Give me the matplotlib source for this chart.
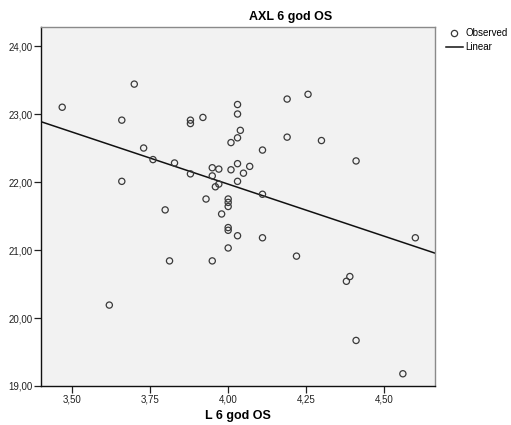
import numpy as np
import matplotlib
matplotlib.use("Agg")
import matplotlib.pyplot as plt
from matplotlib.lines import Line2D

plt.rcParams["font.family"] = ["Liberation Sans", "DejaVu Sans"]

title = "AXL 6 god OS"
x_label = "L 6 god OS"

# L 6 god OS values
l6 = [3.468, 3.699, 3.659, 3.729, 3.759, 3.828, 3.659, 3.879, 3.879, 3.919,
      4.030, 4.030, 4.039, 4.030, 4.009, 4.189, 4.256, 4.189, 4.110, 3.879,
      3.949, 3.970, 3.949, 4.009, 4.030, 4.069, 4.049, 4.030, 3.970, 3.959,
      4.110, 3.929, 4.000, 4.000, 4.000, 3.979, 4.000, 4.000, 4.030, 4.110,
      4.000, 3.812, 3.949, 4.219, 3.798, 3.619, 4.600, 4.390, 4.379, 4.410,
      4.560, 4.299, 4.410]
# AXL 6 god OS values
axl6 = [23.10, 23.44, 22.91, 22.50, 22.33, 22.28, 22.01, 22.91, 22.86, 22.95,
        23.14, 23.00, 22.76, 22.65, 22.58, 23.22, 23.29, 22.66, 22.47, 22.12,
        22.21, 22.19, 22.09, 22.18, 22.27, 22.23, 22.13, 22.01, 21.97, 21.93,
        21.82, 21.75, 21.75, 21.70, 21.64, 21.53, 21.33, 21.29, 21.21, 21.18,
        21.03, 20.84, 20.84, 20.91, 21.59, 20.19, 21.18, 20.61, 20.54, 19.67,
        19.18, 22.61, 22.31]

x_ticks = [3.50, 3.75, 4.00, 4.25, 4.50]
y_ticks = [19, 20, 21, 22, 23, 24]

W, H = 511, 425
fig = plt.figure(figsize=(W / 100, H / 100), dpi=100)
fig.patch.set_facecolor("white")
ax = fig.add_axes([41 / W, (H - 386) / H, (435 - 41) / W, (386 - 27) / H])
ax.set_facecolor("#f2f2f2")

ax.set_xlim(3.40, 4.663)
ax.set_ylim(19.0, 24.28)

ax.scatter(l6, axl6, s=20, facecolors="none", edgecolors="#3a3a3a",
           linewidths=0.9, zorder=3)

# least-squares line across the full x range
slope, intercept = np.polyfit(l6, axl6, 1)
xs = np.array(ax.get_xlim())
ax.plot(xs, intercept + slope * xs, color="#111111", lw=1.1, zorder=2)

ax.set_xticks(x_ticks)
ax.set_xticklabels([f"{v:.2f}".replace(".", ",") for v in x_ticks])
ax.set_yticks(y_ticks)
ax.set_yticklabels([f"{v:.2f}".replace(".", ",") for v in y_ticks])
ax.tick_params(axis="both", direction="out", length=5, width=0.9,
               labelsize=7, colors="#222222", pad=1)

for side in ("left", "bottom"):
    ax.spines[side].set_color("#111111")
    ax.spines[side].set_linewidth(1.0)
for side in ("top", "right"):
    ax.spines[side].set_color("#8a8a8a")
    ax.spines[side].set_linewidth(1.0)

fig.text(291 / W, 1 - 17 / H, title, ha="center", va="center",
         fontsize=9, fontweight="bold")
fig.text(238 / W, 1 - 416 / H, x_label, ha="center", va="center",
         fontsize=9, fontweight="bold")

handles = [
    Line2D([], [], marker="o", ls="none", markersize=4.5,
           markerfacecolor="none", markeredgecolor="#3a3a3a",
           markeredgewidth=0.9, label="Observed"),
    Line2D([], [], color="#111111", lw=1.1, label="Linear"),
]
fig.legend(handles=handles, loc="upper left",
           bbox_to_anchor=(446 / W, 1 - 28 / H), frameon=False,
           fontsize=7, handlelength=1.7, handletextpad=0.3,
           labelspacing=0.45, borderaxespad=0, borderpad=0)

fig.savefig("out.png", dpi=100)
